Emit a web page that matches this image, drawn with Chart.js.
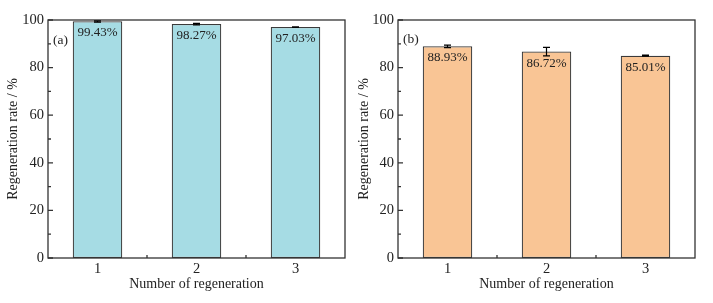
<!DOCTYPE html>
<html>
<head>
<meta charset="utf-8">
<script src="https://cdn.jsdelivr.net/npm/chart.js@4.4.1/dist/chart.umd.min.js"></script>
<style>
  html, body { margin: 0; padding: 0; background: #fff; }
  .box { position: absolute; top: 0; height: 303px; }
  #boxA { left: 0; width: 356px; }
  #boxB { left: 356px; width: 357px; }
</style>
</head>
<body>
<div class="box" id="boxA"><canvas id="chartA"></canvas></div>
<div class="box" id="boxB"><canvas id="chartB"></canvas></div>
<script>
// data
const categories = ["1", "2", "3"];
const ratesA = [99.43, 98.27, 97.03];
const errorsA = [0.3, 0.35, 0.1];
const ratesB = [88.93, 86.72, 85.01];
const errorsB = [0.5, 1.8, 0.25];
const yTicks = [0, 20, 40, 60, 80, 100];

const FONT = "'Liberation Serif', 'Times New Roman', serif";
const INK = "#222";

// frame, inward ticks, error bars and value labels
const decorPlugin = {
    id: "decor",
    afterDatasetsDraw(chart, args, opts) {
        const c = chart.ctx;
        const area = chart.chartArea;
        const xs = chart.scales.x;
        const ys = chart.scales.y;
        const meta = chart.getDatasetMeta(0);
        const vals = chart.data.datasets[0].data;

        // error bars
        c.save();
        c.strokeStyle = "#000";
        c.lineWidth = 1.2;
        meta.data.forEach((bar, i) => {
            const hi = ys.getPixelForValue(vals[i] + opts.errors[i]);
            const lo = ys.getPixelForValue(vals[i] - opts.errors[i]);
            c.beginPath();
            c.moveTo(bar.x, hi); c.lineTo(bar.x, lo);
            c.moveTo(bar.x - 3.5, hi); c.lineTo(bar.x + 3.5, hi);
            c.moveTo(bar.x - 3.5, lo); c.lineTo(bar.x + 3.5, lo);
            c.stroke();
        });

        // value labels
        c.fillStyle = INK;
        c.font = "13px " + FONT;
        c.textAlign = "center";
        c.textBaseline = "middle";
        meta.data.forEach((bar, i) => {
            c.fillText(vals[i].toFixed(2) + "%", bar.x, bar.y + 11.5);
        });

        // panel tag
        c.font = "13.5px " + FONT;
        c.textAlign = "left";
        c.fillText(opts.tag, area.left + 5, ys.getPixelForValue(opts.tagY));

        // frame
        c.strokeStyle = "#333";
        c.lineWidth = 1.3;
        c.strokeRect(area.left, area.top, area.right - area.left, area.bottom - area.top);

        // inward ticks on y
        c.beginPath();
        for (let v = 0; v <= 100; v += 10) {
            const py = ys.getPixelForValue(v);
            const len = v % 20 === 0 ? 5 : 3;
            c.moveTo(area.left, py); c.lineTo(area.left + len, py);
        }
        // inward ticks on x (between categories)
        for (let k = 0; k < categories.length - 1; k++) {
            const px = (xs.getPixelForValue(k) + xs.getPixelForValue(k + 1)) / 2;
            c.moveTo(px, area.bottom); c.lineTo(px, area.bottom - 3);
        }
        c.stroke();
        c.restore();
    }
};

function makeChart(id, values, errors, fill, tag, tagY, yWidth, rightPad, titleGap) {
    return new Chart(document.getElementById(id), {
        type: "bar",
        data: {
            labels: categories,
            datasets: [{
                data: values,
                backgroundColor: fill,
                borderColor: "#3a3a3a",
                borderWidth: 1.2,
                borderSkipped: false,
                barPercentage: 0.5,
                categoryPercentage: 1.0
            }]
        },
        options: {
            responsive: true,
            maintainAspectRatio: false,
            animation: false,
            layout: { padding: { top: 20, right: rightPad, left: 0, bottom: 10 } },
            plugins: {
                legend: { display: false },
                tooltip: { enabled: false },
                decor: { errors: errors, tag: tag, tagY: tagY }
            },
            scales: {
                x: {
                    grid: { display: false, drawTicks: false },
                    border: { display: false },
                    ticks: { color: INK, font: { family: FONT, size: 14.5 }, padding: 2 },
                    title: { display: true, text: "Number of regeneration", color: INK,
                             font: { family: FONT, size: 14 }, padding: { top: 0, bottom: 0 } },
                    afterFit(scale) { scale.height = 35; }
                },
                y: {
                    min: 0,
                    max: 100,
                    afterBuildTicks(scale) { scale.ticks = yTicks.map(v => ({ value: v })); },
                    grid: { display: false, drawTicks: false },
                    border: { display: false },
                    ticks: { color: INK, font: { family: FONT, size: 14.5 }, padding: 4 },
                    title: { display: true, text: "Regeneration rate / %", color: INK,
                             font: { family: FONT, size: 14 }, padding: { top: titleGap, bottom: 2 } },
                    afterFit(scale) { scale.width = yWidth; }
                }
            }
        },
        plugins: [decorPlugin]
    });
}

makeChart("chartA", ratesA, errorsA, "#a6dce4", "(a)", 91.5, 48, 11, 5);
makeChart("chartB", ratesB, errorsB, "#f9c595", "(b)", 92, 42, 18, 0);
</script>
</body>
</html>
